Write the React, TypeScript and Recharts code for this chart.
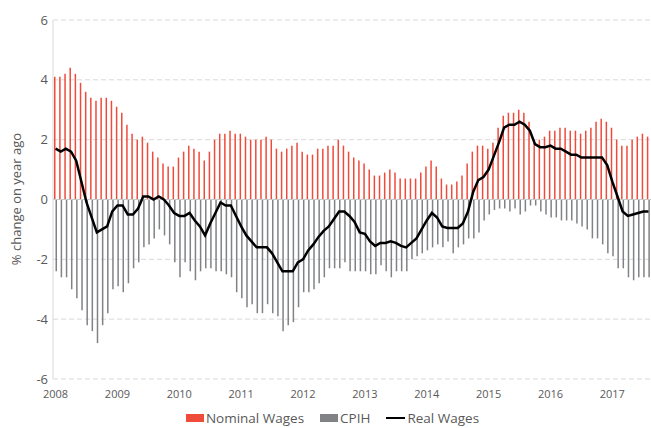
import { Bar, CartesianGrid, ComposedChart, Legend, Line, ReferenceLine, XAxis, YAxis } from "recharts"

const years = ["2008", "2009", "2010", "2011", "2012", "2013", "2014", "2015", "2016", "2017"]
const monthNames = ["Jan", "Feb", "Mar", "Apr", "May", "Jun", "Jul", "Aug", "Sep", "Oct", "Nov", "Dec"]

// % change on year ago, Jan 2008 - Aug 2017
const nominalWages = [
  4.1, 4.1, 4.2, 4.4, 4.2, 3.9, 3.6, 3.4, 3.3, 3.4, 3.4, 3.3,
  3.1, 2.9, 2.5, 2.2, 2.0, 2.1, 1.9, 1.6, 1.4, 1.2, 1.1, 1.1,
  1.4, 1.6, 1.8, 1.7, 1.6, 1.3, 1.6, 2.0, 2.2, 2.2, 2.3, 2.2,
  2.2, 2.1, 2.0, 2.0, 2.0, 2.1, 2.0, 1.7, 1.6, 1.7, 1.8, 1.9,
  1.6, 1.5, 1.5, 1.7, 1.7, 1.8, 1.8, 2.0, 1.8, 1.6, 1.4, 1.3,
  1.2, 1.0, 0.8, 0.8, 0.9, 1.0, 0.9, 0.7, 0.7, 0.7, 0.7, 0.9,
  1.1, 1.3, 1.1, 0.7, 0.5, 0.5, 0.6, 0.8, 1.2, 1.6, 1.8, 1.8,
  1.7, 1.9, 2.4, 2.8, 2.9, 2.9, 3.0, 2.9, 2.6, 2.0, 2.0, 2.1,
  2.3, 2.3, 2.4, 2.4, 2.3, 2.3, 2.2, 2.3, 2.4, 2.6, 2.7, 2.6,
  2.4, 2.0, 1.8, 1.8, 2.0, 2.1, 2.2, 2.1,
]

// shown below zero (inflation subtracted)
const cpih = [
  -2.4, -2.6, -2.6, -3.0, -3.3, -3.7, -4.2, -4.4, -4.8, -4.2, -3.8, -3.0,
  -2.9, -3.1, -2.8, -2.3, -2.1, -1.6, -1.5, -1.3, -1.0, -1.2, -1.5, -2.1,
  -2.6, -2.1, -2.4, -2.7, -2.4, -2.3, -2.3, -2.4, -2.4, -2.5, -2.6, -3.1,
  -3.3, -3.6, -3.5, -3.8, -3.8, -3.5, -3.8, -3.9, -4.4, -4.2, -4.1, -3.6,
  -3.1, -3.1, -3.0, -2.8, -2.6, -2.3, -2.3, -2.3, -2.1, -2.4, -2.4, -2.4,
  -2.4, -2.5, -2.5, -2.2, -2.4, -2.6, -2.4, -2.4, -2.4, -2.0, -1.9, -1.8,
  -1.7, -1.6, -1.5, -1.6, -1.4, -1.8, -1.6, -1.5, -1.3, -1.3, -1.1, -0.7,
  -0.5, -0.35, -0.3, -0.3, -0.4, -0.3, -0.5, -0.4, -0.2, -0.2, -0.4, -0.5,
  -0.6, -0.6, -0.7, -0.7, -0.7, -0.8, -0.9, -1.0, -1.3, -1.3, -1.5, -1.8,
  -1.9, -2.3, -2.3, -2.6, -2.7, -2.6, -2.6, -2.6,
]

const realWages = [
  1.7, 1.6, 1.7, 1.6, 1.3, 0.6, -0.1, -0.6, -1.1, -1.0, -0.9, -0.4,
  -0.2, -0.2, -0.5, -0.5, -0.3, 0.1, 0.1, 0.0, 0.1, 0.0, -0.2, -0.45,
  -0.55, -0.55, -0.45, -0.7, -0.9, -1.2, -0.8, -0.45, -0.1, -0.2, -0.2, -0.55,
  -0.9, -1.2, -1.4, -1.6, -1.6, -1.6, -1.8, -2.1, -2.4, -2.4, -2.4, -2.1,
  -2.0, -1.7, -1.5, -1.25, -1.05, -0.9, -0.65, -0.4, -0.4, -0.55, -0.75, -1.1,
  -1.15, -1.4, -1.55, -1.45, -1.45, -1.4, -1.45, -1.55, -1.6, -1.45, -1.3, -1.0,
  -0.7, -0.45, -0.6, -0.9, -0.95, -0.95, -0.95, -0.8, -0.4, 0.25, 0.65, 0.75,
  1.0, 1.45, 1.9, 2.4, 2.5, 2.5, 2.6, 2.5, 2.3, 1.85, 1.75, 1.75,
  1.8, 1.7, 1.7, 1.6, 1.5, 1.5, 1.4, 1.4, 1.4, 1.4, 1.4, 1.15,
  0.6, 0.1, -0.4, -0.55, -0.5, -0.45, -0.4, -0.4,
]

const yTicks = [-6, -4, -2, 0, 2, 4, 6]

const months = years.flatMap((y) => monthNames.map((m) => `${m} ${y}`)).slice(0, nominalWages.length)

const data = months.map((month, i) => ({
  month,
  nominal: nominalWages[i],
  cpih: cpih[i],
  real: realWages[i],
}))

const RED = "#ee4b3b"
const GREY = "#808285"
const TEXT = "#595959"
const FONT = "'Open Sans', sans-serif"

function ChartLegend() {
  const item = { display: "flex", alignItems: "center", marginRight: 16 }
  return (
    <div
      style={{
        display: "flex",
        justifyContent: "center",
        alignItems: "center",
        height: 20,
        paddingLeft: 30,
        fontFamily: FONT,
        fontSize: 13.5,
        color: TEXT,
      }}
    >
      <div style={item}>
        <span style={{ width: 18, height: 8, background: RED, marginRight: 2 }} />
        Nominal Wages
      </div>
      <div style={item}>
        <span style={{ width: 18, height: 8, background: GREY, marginRight: 2 }} />
        CPIH
      </div>
      <div style={item}>
        <span style={{ width: 19, height: 2.5, background: "#000", marginRight: 2 }} />
        Real Wages
      </div>
    </div>
  )
}

export default function App() {
  return (
    <div style={{ position: "absolute", left: 0, top: 0, width: 651, height: 428, background: "#fff" }}>
      <ComposedChart
        width={651}
        height={428}
        data={data}
        margin={{ top: 20, right: 0, left: 0, bottom: 0 }}
        barGap={0}
      >
        <CartesianGrid vertical={false} stroke="#d9d9d9" strokeDasharray="5 3" />
        <XAxis
          dataKey="month"
          interval={11}
          axisLine={false}
          tickLine={false}
          tickSize={3}
          tickMargin={8}
          height={29}
          tick={{ fontSize: 11, fill: TEXT, fontFamily: FONT }}
          tickFormatter={(v: string) => v.slice(4)}
        />
        <YAxis
          domain={[-6, 6]}
          ticks={yTicks}
          width={53}
          stroke="#d9d9d9"
          tickLine={false}
          tickSize={3}
          tickMargin={2}
          tick={{ fontSize: 13, fill: TEXT, fontFamily: FONT }}
          label={{
            content: () => (
              <text
                x={16}
                y={199}
                transform="rotate(-90 16 199)"
                textAnchor="middle"
                dominantBaseline="central"
                fill={TEXT}
                fontSize={13}
                fontFamily={FONT}
              >
                % change on year ago
              </text>
            ),
          }}
        />
        <ReferenceLine y={0} stroke="#c8c8c8" />
        <Bar dataKey="nominal" name="Nominal Wages" fill={RED} barSize={1.5} isAnimationActive={false} />
        <Bar dataKey="cpih" name="CPIH" fill={GREY} barSize={1.5} isAnimationActive={false} />
        <Line
          dataKey="real"
          name="Real Wages"
          type="linear"
          stroke="#000"
          strokeWidth={2.5}
          dot={false}
          isAnimationActive={false}
        />
        <Legend verticalAlign="bottom" height={20} content={() => <ChartLegend />} />
      </ComposedChart>
    </div>
  )
}
